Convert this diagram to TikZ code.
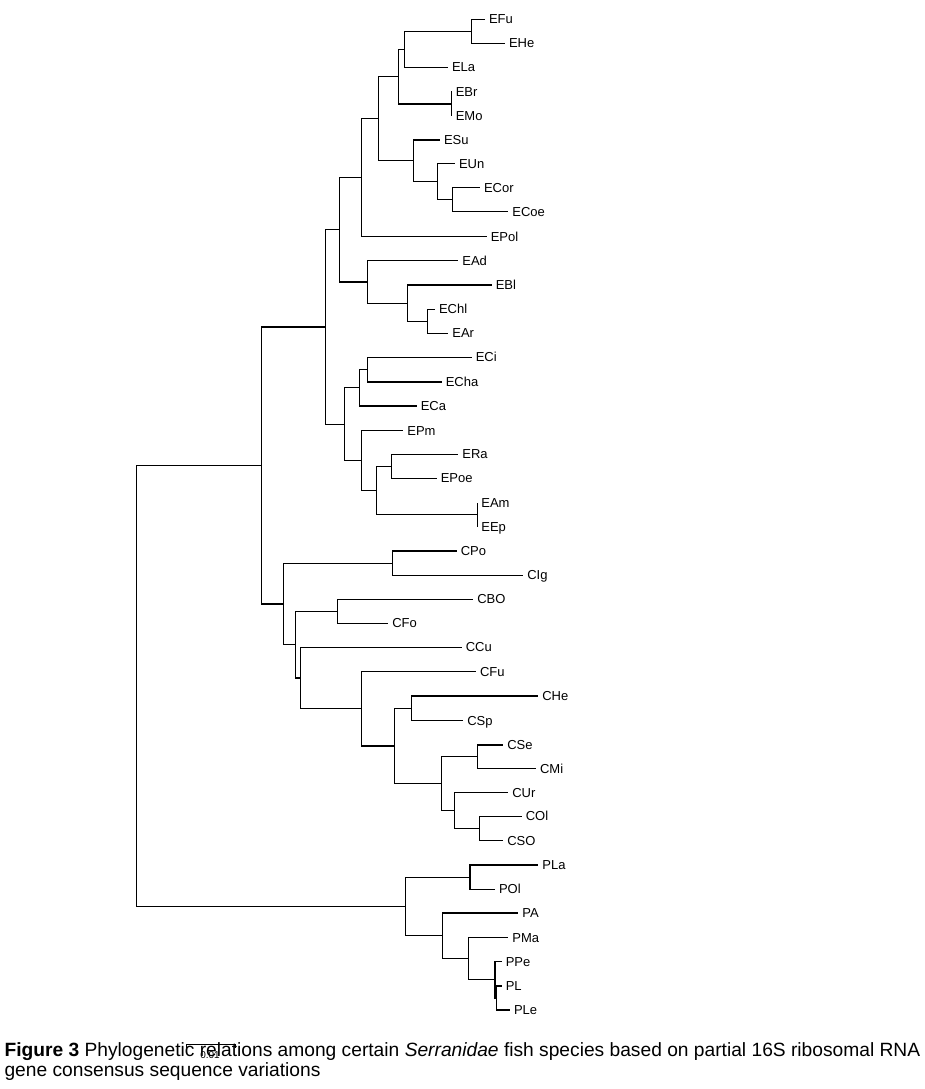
\documentclass[tikz,border=0pt]{standalone}
\usepackage{fontspec}
\setmainfont{Liberation Sans}
\usetikzlibrary{positioning}

\begin{document}
\begin{tikzpicture}[%
    x=1pt,
    y=-1pt,
    line width=1.1pt,
    leaf/.style={anchor=west, inner sep=3.5pt, text height=9.3pt, text depth=0pt,
                 font=\fontsize{13}{13}\selectfont},
    elbow/.style={to path={|- (\tikztotarget)}},
    caption/.style={anchor=base west, inner sep=0pt, font=\fontsize{19.2}{21}\selectfont}]
    \useasboundingbox (0,0) rectangle (925,1089);

    % E clade, leaves
    \node[leaf] (EFu)  at (485,19.3)   {EFu};
    \node[leaf] (EHe)  at (505,43.3)   {EHe};
    \node[leaf] (ELa)  at (448,67.3)   {ELa};
    \node[leaf] (EBr)  at (451.7,91.5) {EBr};
    \node[leaf] (EMo)  at (451.7,115.8) {EMo};
    \node[leaf] (ESu)  at (440,140)    {ESu};
    \node[leaf] (EUn)  at (455,163.5)  {EUn};
    \node[leaf] (ECor) at (480,187.7)  {ECor};
    \node[leaf] (ECoe) at (508.3,211.7) {ECoe};
    \node[leaf] (EPol) at (486.7,236.5) {EPol};
    \node[leaf] (EAd)  at (458.3,260.7) {EAd};
    \node[leaf] (EBl)  at (491.7,285)  {EBl};
    \node[leaf] (EChl) at (435,309.3)  {EChl};
    \node[leaf] (EAr)  at (448.3,333.3) {EAr};
    \node[leaf] (ECi)  at (471.7,357.3) {ECi};
    \node[leaf] (ECha) at (441.7,382)  {ECha};
    \node[leaf] (ECa)  at (416.7,406)  {ECa};
    \node[leaf] (EPm)  at (403.3,430.5) {EPm};
    \node[leaf] (ERa)  at (458.3,454.3) {ERa};
    \node[leaf] (EPoe) at (436.7,478.3) {EPoe};
    \node[leaf] (EAm)  at (477.3,502.7) {EAm};
    \node[leaf] (EEp)  at (477.3,527)  {EEp};

    % C clade, leaves
    \node[leaf] (CPo)  at (456.7,551)  {CPo};
    \node[leaf] (CIg)  at (523.3,575.3) {CIg};
    \node[leaf] (CBO)  at (473.3,599.3) {CBO};
    \node[leaf] (CFo)  at (388.3,623.3) {CFo};
    \node[leaf] (CCu)  at (461.7,647.3) {CCu};
    \node[leaf] (CFu)  at (476,671.7)  {CFu};
    \node[leaf] (CHe)  at (538.3,696)  {CHe};
    \node[leaf] (CSp)  at (463.3,720.5) {CSp};
    \node[leaf] (CSe)  at (503.3,745)  {CSe};
    \node[leaf] (CMi)  at (536,768.5)  {CMi};
    \node[leaf] (CUr)  at (508.3,792.5) {CUr};
    \node[leaf] (COl)  at (521.7,816.3) {COl};
    \node[leaf] (CSO)  at (503.3,840.7) {CSO};

    % P clade, leaves
    \node[leaf] (PLa)  at (538.3,865)  {PLa};
    \node[leaf] (POl)  at (495,889.3)  {POl};
    \node[leaf] (PA)   at (518.3,913)  {PA};
    \node[leaf] (PMa)  at (508.3,937.5) {PMa};
    \node[leaf] (PPe)  at (501.7,961.7) {PPe};
    \node[leaf] (PL)   at (501.7,986)  {PL};
    \node[leaf] (PLe)  at (510,1010)   {PLe};

    % inner nodes
    \coordinate (e_fuhe)  at (471.7,31.5);
    \coordinate (e_fula)  at (404.3,49.4);
    \coordinate (e_brmo)  at (451.7,104);
    \coordinate (e_fumo)  at (398.3,76.7);
    \coordinate (e_corcoe) at (452.7,199.7);
    \coordinate (e_uncoe) at (437.7,181.6);
    \coordinate (e_sucoe) at (413.3,160.8);
    \coordinate (e_fucoe) at (378.7,118.8);
    \coordinate (e_fupol) at (361.7,177.6);
    \coordinate (e_chlar) at (427.3,321.3);
    \coordinate (e_blar)  at (407.3,303.2);
    \coordinate (e_adar)  at (367.7,282);
    \coordinate (e_fuar)  at (339.7,229.8);
    \coordinate (e_cicha) at (367.7,369.7);
    \coordinate (e_cica)  at (359.3,387.8);
    \coordinate (e_rapoe) at (391.3,466.3);
    \coordinate (e_amep)  at (477.3,514.8);
    \coordinate (e_raep)  at (376.7,490.5);
    \coordinate (e_pmep)  at (361.3,460.5);
    \coordinate (e_ciep)  at (344.3,424.2);
    \coordinate (e_all)   at (325.3,327);
    \coordinate (c_poig)  at (392.7,563.2);
    \coordinate (c_bofo)  at (337.3,611.3);
    \coordinate (c_hesp)  at (411.7,708.3);
    \coordinate (c_semi)  at (477.7,756.8);
    \coordinate (c_olso)  at (479.3,828.5);
    \coordinate (c_urso)  at (454.3,810.4);
    \coordinate (c_seso)  at (441.7,783.6);
    \coordinate (c_heso)  at (394.3,746);
    \coordinate (c_fuso)  at (361.3,708.8);
    \coordinate (c_cuso)  at (300.3,678);
    \coordinate (c_boso)  at (295.3,644.7);
    \coordinate (c_all)   at (283.3,604);
    \coordinate (ec)      at (261.3,465.5);
    \coordinate (p_laol)  at (470,877.2);
    \coordinate (p_lle)   at (496.7,998);
    \coordinate (p_pele)  at (495,979.9);
    \coordinate (p_male)  at (468.3,958.7);
    \coordinate (p_ale)   at (442.3,935.9);
    \coordinate (p_all)   at (405.7,906.5);
    \coordinate (root)    at (136.3,686);

    \path[draw]
              (e_fuhe) edge [elbow] (EFu.west)
              (e_fuhe) edge [elbow] (EHe.west)
              (e_fula) edge [elbow] (e_fuhe)
              (e_fula) edge [elbow] (ELa.west)
              (e_brmo) edge [elbow] (EBr.west)
              (e_brmo) edge [elbow] (EMo.west)
              (e_fumo) edge [elbow] (e_fula)
              (e_fumo) edge [elbow] (e_brmo)
              (e_corcoe) edge [elbow] (ECor.west)
              (e_corcoe) edge [elbow] (ECoe.west)
              (e_uncoe) edge [elbow] (EUn.west)
              (e_uncoe) edge [elbow] (e_corcoe)
              (e_sucoe) edge [elbow] (ESu.west)
              (e_sucoe) edge [elbow] (e_uncoe)
              (e_fucoe) edge [elbow] (e_fumo)
              (e_fucoe) edge [elbow] (e_sucoe)
              (e_fupol) edge [elbow] (e_fucoe)
              (e_fupol) edge [elbow] (EPol.west)
              (e_chlar) edge [elbow] (EChl.west)
              (e_chlar) edge [elbow] (EAr.west)
              (e_blar) edge [elbow] (EBl.west)
              (e_blar) edge [elbow] (e_chlar)
              (e_adar) edge [elbow] (EAd.west)
              (e_adar) edge [elbow] (e_blar)
              (e_fuar) edge [elbow] (e_fupol)
              (e_fuar) edge [elbow] (e_adar)
              (e_cicha) edge [elbow] (ECi.west)
              (e_cicha) edge [elbow] (ECha.west)
              (e_cica) edge [elbow] (e_cicha)
              (e_cica) edge [elbow] (ECa.west)
              (e_rapoe) edge [elbow] (ERa.west)
              (e_rapoe) edge [elbow] (EPoe.west)
              (e_amep) edge [elbow] (EAm.west)
              (e_amep) edge [elbow] (EEp.west)
              (e_raep) edge [elbow] (e_rapoe)
              (e_raep) edge [elbow] (e_amep)
              (e_pmep) edge [elbow] (EPm.west)
              (e_pmep) edge [elbow] (e_raep)
              (e_ciep) edge [elbow] (e_cica)
              (e_ciep) edge [elbow] (e_pmep)
              (e_all) edge [elbow] (e_fuar)
              (e_all) edge [elbow] (e_ciep)

              (c_poig) edge [elbow] (CPo.west)
              (c_poig) edge [elbow] (CIg.west)
              (c_bofo) edge [elbow] (CBO.west)
              (c_bofo) edge [elbow] (CFo.west)
              (c_hesp) edge [elbow] (CHe.west)
              (c_hesp) edge [elbow] (CSp.west)
              (c_semi) edge [elbow] (CSe.west)
              (c_semi) edge [elbow] (CMi.west)
              (c_olso) edge [elbow] (COl.west)
              (c_olso) edge [elbow] (CSO.west)
              (c_urso) edge [elbow] (CUr.west)
              (c_urso) edge [elbow] (c_olso)
              (c_seso) edge [elbow] (c_semi)
              (c_seso) edge [elbow] (c_urso)
              (c_heso) edge [elbow] (c_hesp)
              (c_heso) edge [elbow] (c_seso)
              (c_fuso) edge [elbow] (CFu.west)
              (c_fuso) edge [elbow] (c_heso)
              (c_cuso) edge [elbow] (CCu.west)
              (c_cuso) edge [elbow] (c_fuso)
              (c_boso) edge [elbow] (c_bofo)
              (c_boso) edge [elbow] (c_cuso)
              (c_all) edge [elbow] (c_poig)
              (c_all) edge [elbow] (c_boso)
              (ec) edge [elbow] (e_all)
              (ec) edge [elbow] (c_all)

              (p_laol) edge [elbow] (PLa.west)
              (p_laol) edge [elbow] (POl.west)
              (p_lle) edge [elbow] (PL.west)
              (p_lle) edge [elbow] (PLe.west)
              (p_pele) edge [elbow] (PPe.west)
              (p_pele) edge [elbow] (p_lle)
              (p_male) edge [elbow] (PMa.west)
              (p_male) edge [elbow] (p_pele)
              (p_ale) edge [elbow] (PA.west)
              (p_ale) edge [elbow] (p_male)
              (p_all) edge [elbow] (p_laol)
              (p_all) edge [elbow] (p_ale)
              (root) edge [elbow] (ec)
              (root) edge [elbow] (p_all);

    % caption and scale bar
    \node[caption] (cap1) at (4,1056) {\textbf{Figure 3} Phylogenetic relations among certain \textit{Serranidae} fish species based on partial 16S ribosomal RNA};
    \node[caption] (cap2) at (4,1076.7) {gene consensus sequence variations};
    \coordinate (bar_l) at (186.7,1044.3);
    \coordinate (bar_r) at (235,1044.3);
    \draw[line width=0.7pt] ([yshift=-3.5pt]bar_l) -- (bar_l) -- (bar_r) -- ([yshift=-3.5pt]bar_r);
    \node[font=\fontsize{10}{10}\selectfont, inner sep=0pt] (bar_lab) at (210,1055) {0.01};
\end{tikzpicture}
\end{document}
